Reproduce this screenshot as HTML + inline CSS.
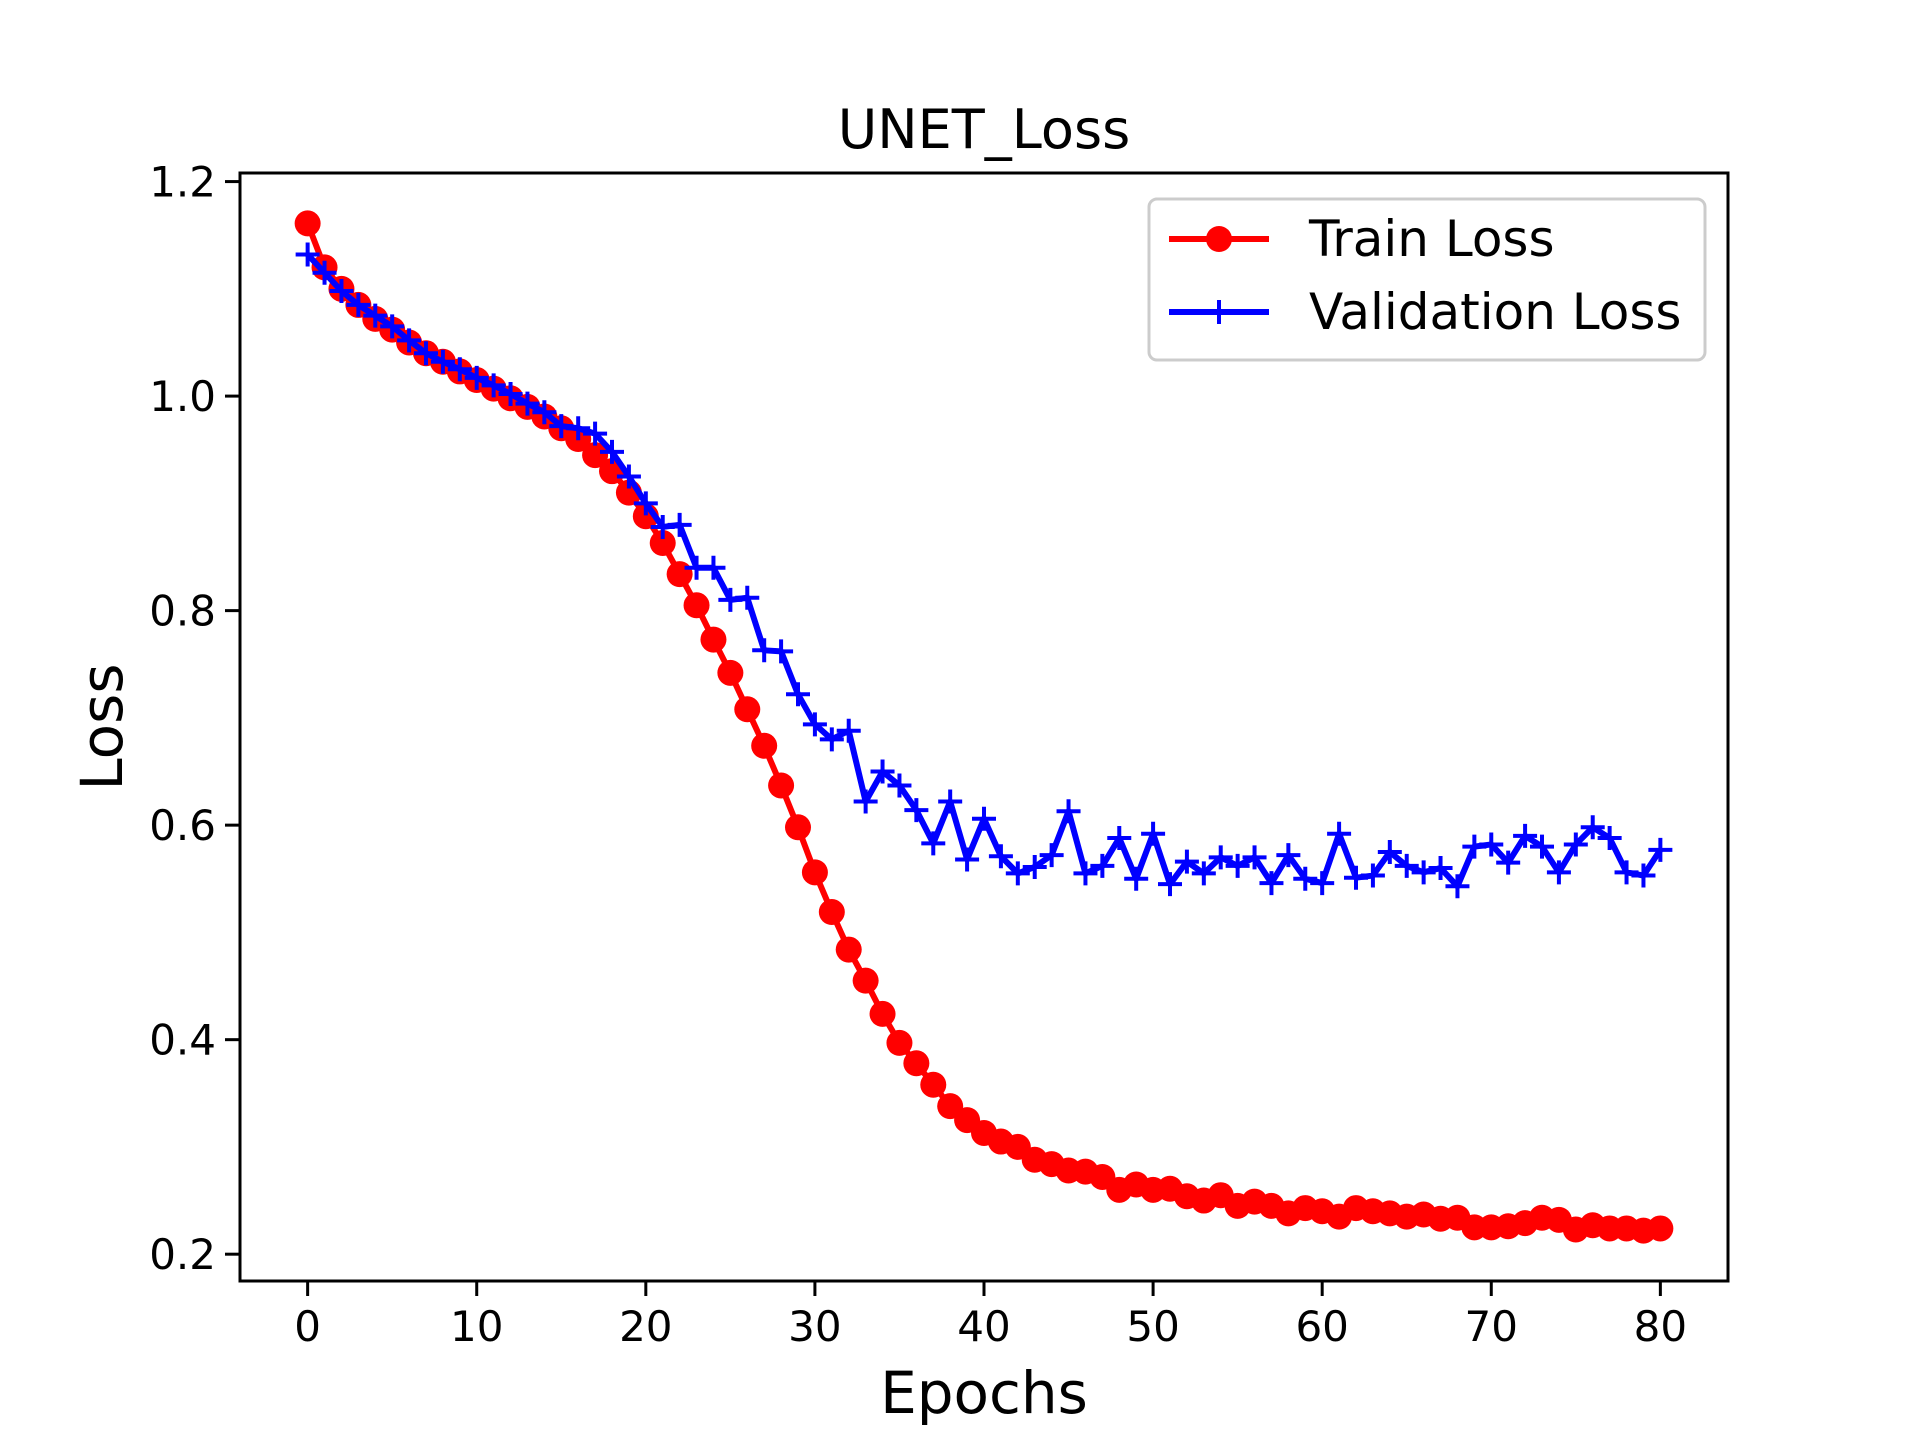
<!DOCTYPE html>
<html><head><meta charset="utf-8"><style>
html,body{margin:0;padding:0;background:#fff;}
svg{display:block;font-family:"DejaVu Sans","Liberation Sans",sans-serif;}
</style></head>
<body>
<svg id="chart" width="1920" height="1440" viewBox="0 0 1920 1440" xmlns="http://www.w3.org/2000/svg">
<rect width="1920" height="1440" fill="#fff"/>
<text x="984" y="148" font-size="54" text-anchor="middle">UNET_Loss</text>
<text x="984" y="1413" font-size="58" text-anchor="middle">Epochs</text>
<text x="0" y="0" font-size="58" text-anchor="middle" transform="translate(122,727) rotate(-90)">Loss</text>
<g id="ticks"></g>
<g id="plot"></g>
<rect x="240" y="173" width="1488" height="1108" fill="none" stroke="#000" stroke-width="3"/>
<g transform="translate(-9,-1)">
<rect x="1158" y="200" width="556" height="161" rx="8" fill="#fff" fill-opacity="0.8" stroke="#ccc" stroke-width="3"/>
<g>
<line x1="1178" y1="240" x2="1278" y2="240" stroke="#f00" stroke-width="6"/>
<circle cx="1228" cy="240" r="13" fill="#f00"/>
<text x="1318" y="257" font-size="50">Train Loss</text>
</g>
<g>
<line x1="1178" y1="313" x2="1278" y2="313" stroke="#00f" stroke-width="6"/>
<path d="M1216 313H1240M1228 301V325" stroke="#00f" stroke-width="4"/>
<text x="1318" y="330" font-size="50">Validation Loss</text>
</g>
</g>
</svg>
<script>
const epochs = Array.from({length:81},(_,i)=>i);
const trainLoss = [1.161,1.12,1.10,1.085,1.072,1.062,1.05,1.04,1.032,1.023,1.015,1.007,0.998,0.99,0.981,0.97,0.96,0.945,0.93,0.91,0.888,0.863,0.834,0.805,0.773,0.742,0.708,0.674,0.637,0.598,0.556,0.519,0.484,0.455,0.424,0.397,0.378,0.358,0.338,0.325,0.313,0.305,0.30,0.288,0.284,0.278,0.277,0.272,0.26,0.265,0.26,0.261,0.254,0.25,0.255,0.245,0.249,0.245,0.238,0.243,0.24,0.235,0.243,0.24,0.238,0.235,0.237,0.233,0.234,0.225,0.225,0.226,0.229,0.234,0.232,0.223,0.227,0.224,0.224,0.222,0.224];
const valLoss = [1.132,1.115,1.098,1.085,1.075,1.065,1.052,1.04,1.032,1.025,1.017,1.01,1.002,0.993,0.985,0.972,0.97,0.965,0.948,0.925,0.9,0.878,0.88,0.84,0.84,0.81,0.812,0.763,0.762,0.722,0.694,0.68,0.688,0.622,0.65,0.637,0.614,0.583,0.622,0.568,0.606,0.571,0.555,0.561,0.572,0.613,0.555,0.562,0.588,0.55,0.592,0.545,0.566,0.555,0.57,0.562,0.57,0.546,0.572,0.55,0.546,0.592,0.551,0.553,0.575,0.562,0.556,0.56,0.543,0.58,0.582,0.565,0.59,0.58,0.556,0.582,0.598,0.588,0.556,0.553,0.577];
const xTicks = [0,10,20,30,40,50,60,70,80];
const yTicks = [0.2,0.4,0.6,0.8,1.0,1.2];
const yTickLabels = ["0.2","0.4","0.6","0.8","1.0","1.2"];

const NS="http://www.w3.org/2000/svg";
const L=240,R=1728,T=173,B=1281;
const xmin=-4,xmax=84,ymin=0.175,ymax=1.208;
const sx=v=>L+(v-xmin)/(xmax-xmin)*(R-L);
const sy=v=>B-(v-ymin)/(ymax-ymin)*(B-T);
function mk(tag,attrs,parent){const e=document.createElementNS(NS,tag);for(const k in attrs)e.setAttribute(k,attrs[k]);parent.appendChild(e);return e;}
const tg=document.getElementById('ticks');
xTicks.forEach(v=>{
  const g=mk('g',{},tg);
  
  
  mk('line',{x1:sx(v),x2:sx(v),y1:B,y2:B+15,stroke:'#000','stroke-width':3},g);
  const t=mk('text',{x:sx(v),y:B+60,'font-size':42,'text-anchor':'middle'},g);t.textContent=v;
});
yTicks.forEach((v,i)=>{
  const g=mk('g',{},tg);
  
  
  mk('line',{x1:L-15,x2:L,y1:sy(v),y2:sy(v),stroke:'#000','stroke-width':3},g);
  const t=mk('text',{x:L-24,y:sy(v)+15,'font-size':42,'text-anchor':'end'},g);t.textContent=yTickLabels[i];
});
const pg=document.getElementById('plot');
const tr=mk('g',{},pg);


mk('polyline',{points:epochs.map((e,i)=>sx(e)+','+sy(trainLoss[i])).join(' '),fill:'none',stroke:'#f00','stroke-width':6,'stroke-linejoin':'round'},tr);
epochs.forEach((e,i)=>{
  const c=mk('circle',{cx:sx(e),cy:sy(trainLoss[i]),r:13,fill:'#f00'},tr);
  
  
});
const va=mk('g',{},pg);


mk('polyline',{points:epochs.map((e,i)=>sx(e)+','+sy(valLoss[i])).join(' '),fill:'none',stroke:'#00f','stroke-width':6,'stroke-linejoin':'round'},va);
epochs.forEach((e,i)=>{
  const x=sx(e),y=sy(valLoss[i]);
  const p=mk('path',{d:`M${x-12} ${y}H${x+12}M${x} ${y-12}V${y+12}`,stroke:'#00f','stroke-width':4},va);
  
  
});
</script>
</body></html>
